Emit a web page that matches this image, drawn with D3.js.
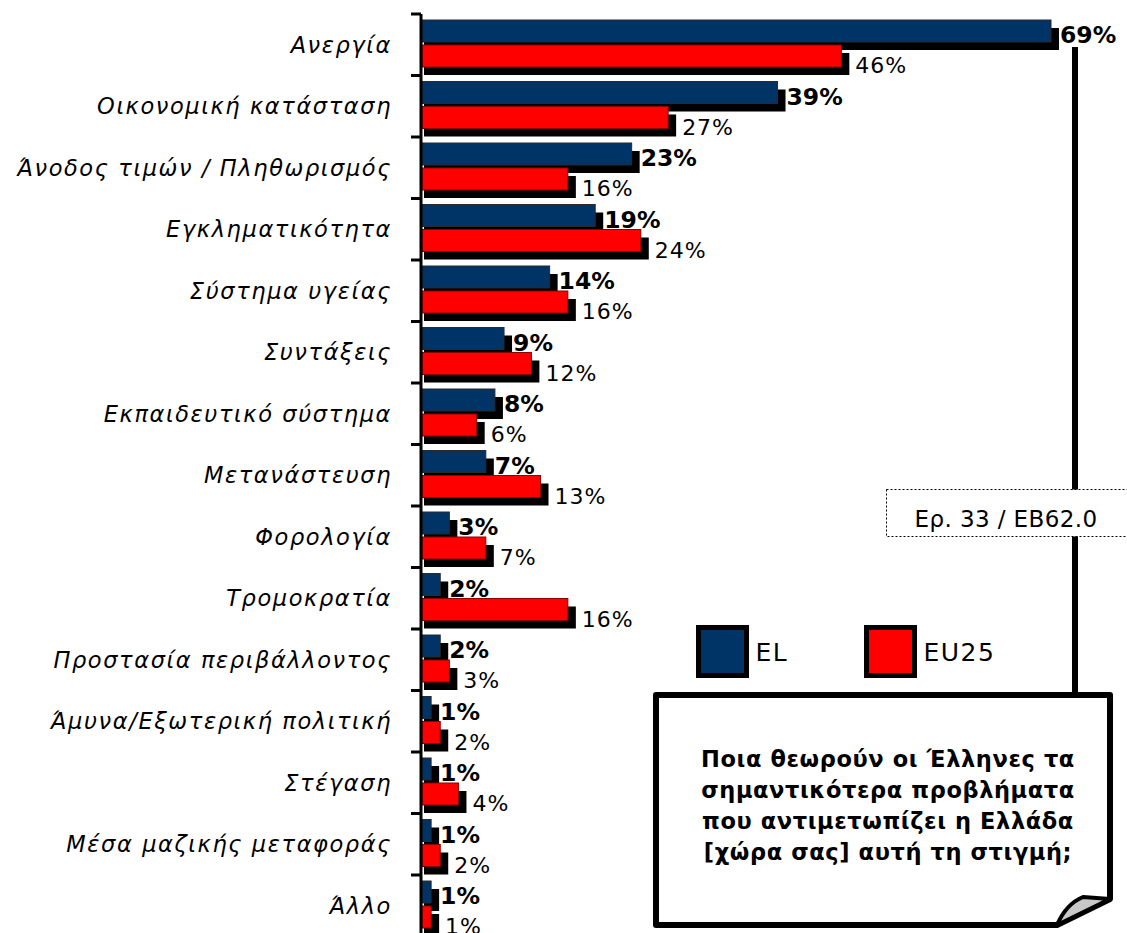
<!DOCTYPE html>
<html><head><meta charset="utf-8">
<script src="https://cdn.jsdelivr.net/npm/d3@7"></script>
<style>
html,body{margin:0;padding:0;background:#fff;}
svg{display:block;}
</style></head>
<body>
<svg id="chart" width="1127" height="933"></svg>
<script>
const categories = ["Ανεργία","Οικονομική κατάσταση","Άνοδος τιμών / Πληθωρισμός","Εγκληματικότητα","Σύστημα υγείας","Συντάξεις","Εκπαιδευτικό σύστημα","Μετανάστευση","Φορολογία","Τρομοκρατία","Προστασία περιβάλλοντος","Άμυνα/Εξωτερική πολιτική","Στέγαση","Μέσα μαζικής μεταφοράς","Άλλο"];
const elValues = [69,39,23,19,14,9,8,7,3,2,2,1,1,1,1];
const eu25Values = [46,27,16,24,16,12,6,13,7,16,3,2,4,2,1];
const seriesNames = ["EL","EU25"];
const seriesColors = ["#003366","#ff0000"];
const sourceText = "Ερ. 33 / EB62.0";
const questionLines = ["Ποια θεωρούν οι Έλληνες τα","σημαντικότερα προβλήματα","που αντιμετωπίζει η Ελλάδα","[χώρα σας] αυτή τη στιγμή;"];

const svg = d3.select("#chart");
const font = "'DejaVu Sans', sans-serif";

const x = d3.scaleLinear().domain([0, 69]).range([422, 1051]);
const y = d3.scaleBand().domain(categories).range([14, 936.5]).padding(0);

const data = categories.map((c,i)=>({c, el: elValues[i], eu: eu25Values[i]}));

const g = svg.append("g");
data.forEach(d=>{
  const y0 = y(d.c);
  g.append("rect").attr("x", x(0)+2).attr("y", y0+6+8).attr("width", x(d.el)-x(0)+6).attr("height", 22).attr("fill","#000");
  g.append("rect").attr("x", x(0)).attr("y", y0+6).attr("width", x(d.el)-x(0)).attr("height", 22)
    .attr("fill", seriesColors[0]).attr("stroke","#2a2a2a").attr("stroke-width",1);
  g.append("rect").attr("x", x(0)+2).attr("y", y0+31+8).attr("width", x(d.eu)-x(0)+6).attr("height", 22).attr("fill","#000");
  g.append("rect").attr("x", x(0)).attr("y", y0+31).attr("width", x(d.eu)-x(0)).attr("height", 22)
    .attr("fill", seriesColors[1]).attr("stroke","#8a0000").attr("stroke-width",1);
});
data.forEach(d=>{
  const y0 = y(d.c);
  g.append("text").attr("x", x(d.el)+9).attr("y", y0+29).attr("font-family",font).attr("font-weight","bold")
    .attr("font-size",23.5).attr("fill","#000").text(d.el+"%");
  g.append("text").attr("x", x(d.eu)+14).attr("y", y0+59).attr("font-family",font)
    .attr("font-size",22).attr("letter-spacing",1).attr("fill","#000").text(d.eu+"%");
});

// category labels
svg.append("g").selectAll("text").data(categories).join("text")
  .attr("x", 392).attr("y", d=>y(d)+y.bandwidth()/2).attr("dy","0.35em")
  .attr("text-anchor","end").attr("font-family",font).attr("font-style","italic")
  .attr("font-size",22.5).attr("letter-spacing",1.6).attr("fill","#000").text(d=>d);

// axis line and ticks at band boundaries
const bounds = categories.map(c=>y(c)).concat([y.range()[1]]);
svg.append("line").attr("x1",421).attr("x2",421).attr("y1",14).attr("y2",936).attr("stroke","#000").attr("stroke-width",3);
svg.append("g").selectAll("line").data(bounds).join("line")
  .attr("x1",411).attr("x2",421).attr("y1",d=>d).attr("y2",d=>d).attr("stroke","#000").attr("stroke-width",3);

// right vertical connector line
svg.append("line").attr("x1",1075).attr("x2",1075).attr("y1",47).attr("y2",695).attr("stroke","#000").attr("stroke-width",6);

// source dotted box
svg.append("rect").attr("x",886.5).attr("y",489.5).attr("width",260).attr("height",47)
  .attr("fill","#fff").attr("stroke","#000").attr("stroke-width",1).attr("stroke-dasharray","2,2");
svg.append("text").attr("x",1006).attr("y",527).attr("text-anchor","middle").attr("font-family",font)
  .attr("font-size",23).attr("letter-spacing",0.4).attr("fill","#000").text(sourceText);

// legend
const legX = [698.5, 866.5];
seriesNames.forEach((n,i)=>{
  svg.append("rect").attr("x",legX[i]).attr("y",627.5).attr("width",48).attr("height",48)
    .attr("fill",seriesColors[i]).attr("stroke","#000").attr("stroke-width",5);
  svg.append("text").attr("x",legX[i]+57).attr("y",661).attr("font-family",font).attr("font-size",25)
    .attr("letter-spacing",1.5).attr("fill","#000").text(n);
});

// question box with folded corner
svg.append("path").attr("d","M656,695 H1110 V899 L1057,925 H656 Z")
  .attr("fill","#fff").attr("stroke","#000").attr("stroke-width",6).attr("stroke-linejoin","round");
svg.append("path").attr("d","M1057,925 Q1066,904 1083,897 L1110,899 Z")
  .attr("fill","#c8c8c8").attr("stroke","#000").attr("stroke-width",4).attr("stroke-linejoin","round");
svg.append("g").selectAll("text").data(questionLines).join("text")
  .attr("x",888).attr("y",(d,i)=>767+i*31).attr("text-anchor","middle").attr("font-family",font)
  .attr("font-weight","bold").attr("font-size",22.5).attr("letter-spacing",0.6).attr("fill","#000").text(d=>d);
</script>
</body></html>
